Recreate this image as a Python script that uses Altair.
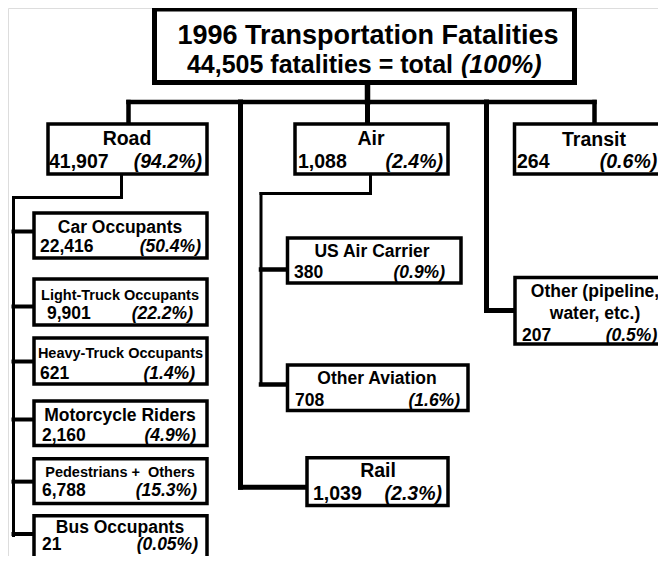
import altair as alt
import pandas as pd

# ---------------- data ----------------
labels = ["1996 Transportation Fatalities", "Road", "Air", "Transit", "Rail",
          "Other (pipeline,|water, etc.)", "Car Occupants", "Light-Truck Occupants",
          "Heavy-Truck Occupants", "Motorcycle Riders", "Pedestrians +\u00a0 Others",
          "Bus Occupants", "US Air Carrier", "Other Aviation"]
fatalities = [44505, 41907, 1088, 264, 1039, 207, 22416, 9901, 621, 2160, 6788, 21, 380, 708]
shares = [100, 94.2, 2.4, 0.6, 2.3, 0.5, 50.4, 22.2, 1.4, 4.9, 15.3, 0.05, 0.9, 1.6]

# ---------------- layout (pixel positions of the diagram) ----------------
box_x0 = [154.5, 48, 295, 514.5, 307, 515, 34, 34, 34, 34, 34, 34, 287.5, 287.5]
box_x1 = [574.5, 207, 448, 676, 448, 672, 207, 207, 207, 207, 207, 207, 461, 468]
box_y0 = [9, 124, 124, 124, 459, 277.5, 213, 279, 338, 401, 460, 521, 238, 365]
box_y1 = [82.5, 174, 174, 174, 510, 344, 258, 325, 384, 446, 508, 574, 283, 410.5]
box_sw = [5, 3.5, 3.5, 3.5, 3.5, 3.5, 3.5, 3.5, 3.5, 3.5, 3.5, 3.5, 3.5, 3.5]

name_x = [368, 127, 371, 594, 378, 595, 120, 120, 120.5, 120, 120, 120, 372, 377]
name_y = [44, 145, 145, 146, 480, 297, 233, 300, 358, 421, 480, 539, 257, 384]
name_size = [27, 19.5, 19.5, 19.5, 19.5, 17.5, 17.5, 14.5, 14.5, 17.5, 14.5, 17.5, 17.5, 17.5]
line_gap = 22
count_x = [453, 49, 298, 517, 313, 522, 40, 47, 40, 42, 42, 42, 294, 295]
count_y = [73, 168, 168, 168, 504, 341, 252, 319, 379, 441, 500, 558, 278, 406]
pct_x = [461, 202, 443, 665, 442, 665, 201, 193, 195, 196, 197, 198, 445, 460]
num_size = [25, 19.5, 19.5, 19.5, 19.5, 17.5, 17.5, 17.5, 17.5, 17.5, 17.5, 17.5, 17.5, 17.5]

# connectors: x, y, x2, y2, width
seg_x1 = [367.5, 128.5, 128.5, 240.5, 240.5, 367.5, 486.5, 486.5, 594.5,
          121.5, 13.5, 13.5, 13.5, 13.5, 13.5, 13.5, 13.5, 13.5,
          370.5, 261, 261, 261, 261]
seg_y1 = [82.5, 102, 102, 102, 490.5, 102, 102, 310.5, 102,
          174, 197.5, 197.5, 231.5, 306.5, 361.5, 419.5, 484.5, 540.5,
          174, 193.5, 193.5, 269.5, 384.5]
seg_x2 = [367.5, 594.5, 128.5, 240.5, 307, 367.5, 486.5, 515, 594.5,
          121.5, 121.5, 13.5, 34, 34, 34, 34, 34, 34,
          370.5, 370.5, 261, 287.5, 287.5]
seg_y2 = [102, 102, 124, 490.5, 490.5, 124, 310.5, 310.5, 124,
          197.5, 197.5, 542, 231.5, 306.5, 361.5, 419.5, 484.5, 540.5,
          193.5, 193.5, 384.5, 269.5, 384.5]
seg_w = [5.5, 4.5, 4.5, 5, 5, 5, 5, 5, 4.5,
         3, 3, 3, 4, 4, 4, 4, 4, 4,
         3, 3, 3, 4.5, 4.5]

FONT = "Liberation Sans"
W, H = 650, 548  # fits the 666x564 window inside the 8px page margin

# piecewise scales: 1:1 with the reference pixels, squeezing only the last strip
xs = alt.Scale(domain=[8, 630, 666], range=[0, 622, W], nice=False, zero=False)
ys = alt.Scale(domain=[8, 440, 564], range=[0, 432, H], nice=False, zero=False)

segs = pd.DataFrame({"x": seg_x1, "y": seg_y1, "x2": seg_x2, "y2": seg_y2, "w": seg_w})
boxes = pd.DataFrame({"x": box_x0, "x2": box_x1, "y": box_y0, "y2": box_y1, "w": box_sw})


def fmt_count(v):
    return f"{v:,}"


def fmt_share(p):
    return f"({p:g}%)"


rows = []
for i, lab in enumerate(labels):
    for j, line in enumerate(lab.split("|")):
        rows.append(dict(x=name_x[i], y=name_y[i] + j * line_gap, text=line,
                         size=name_size[i], align="center", style="normal"))
    if i == 0:
        rows.append(dict(x=count_x[i], y=count_y[i],
                         text=f"{fmt_count(fatalities[i])} fatalities = total",
                         size=num_size[i], align="right", style="normal"))
        rows.append(dict(x=pct_x[i], y=count_y[i], text=fmt_share(shares[i]),
                         size=num_size[i], align="left", style="italic"))
    else:
        rows.append(dict(x=count_x[i], y=count_y[i], text=fmt_count(fatalities[i]),
                         size=num_size[i], align="left", style="normal"))
        rows.append(dict(x=pct_x[i], y=count_y[i], text=fmt_share(shares[i]),
                         size=num_size[i], align="right", style="italic"))
texts = pd.DataFrame(rows)

rules = alt.Chart(segs).mark_rule(color="black", strokeCap="square").encode(
    x=alt.X("x:Q", scale=xs, axis=None),
    y=alt.Y("y:Q", scale=ys, axis=None),
    x2="x2:Q", y2="y2:Q",
    strokeWidth=alt.StrokeWidth("w:Q", scale=None),
)

rects = alt.Chart(boxes).mark_rect(fill="white", stroke="black").encode(
    x=alt.X("x:Q", scale=xs, axis=None),
    y=alt.Y("y:Q", scale=ys, axis=None),
    x2="x2:Q", y2="y2:Q",
    strokeWidth=alt.StrokeWidth("w:Q", scale=None),
)

layers = [rules, rects]
for (al, st), sub in texts.groupby(["align", "style"]):
    layers.append(
        alt.Chart(sub).mark_text(font=FONT, fontWeight="bold", fontStyle=st, align=al,
                                 baseline="alphabetic", color="black").encode(
            x=alt.X("x:Q", scale=xs, axis=None),
            y=alt.Y("y:Q", scale=ys, axis=None),
            text="text:N",
            size=alt.Size("size:Q", scale=None),
        )
    )

chart = alt.layer(*layers).properties(
    width=W, height=H, padding=0,
    autosize=alt.AutoSizeParams(type="none"),
).configure_view(stroke=None).configure(background="white")

chart.save("out.html", embed_options={"renderer": "svg", "actions": False})
